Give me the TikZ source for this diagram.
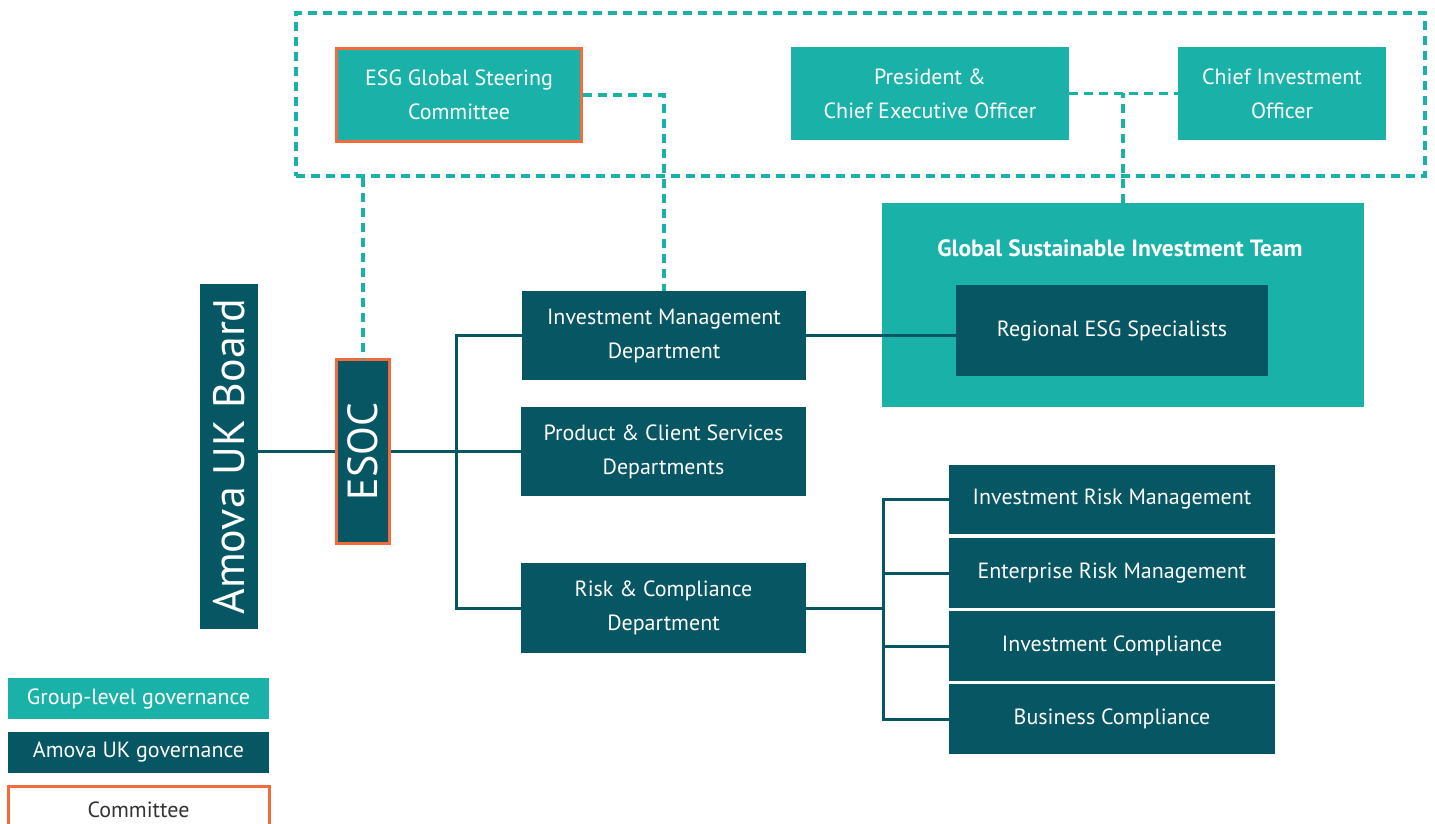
\documentclass[tikz,border=0pt]{standalone}
\usepackage{fontspec}
\setmainfont{PT Sans}
\definecolor{lteal}{HTML}{1AB2A8}
\definecolor{dteal}{HTML}{065663}
\definecolor{orng}{HTML}{F26B3A}
\definecolor{gtxt}{HTML}{333333}
\begin{document}
\begin{tikzpicture}[x=1pt,y=-1pt,
  box/.style={rectangle, inner sep=0pt, align=center, text=white,
    font=\fontsize{22}{34}\selectfont},
  grpbox/.style={box, fill=lteal},
  ukbox/.style={box, fill=dteal},
  cmte/.style={draw=orng, line width=3pt},
  dsh/.style={draw=lteal, line width=3.5pt, dash pattern=on 9pt off 6pt},
  sol/.style={draw=dteal, line width=3pt},
  legtxt/.style={font=\fontsize{22}{26}\selectfont}]
\useasboundingbox (0,0) rectangle (1435,824);
% group-level frame
\node[rectangle, dsh, minimum width=1129, minimum height=163] (grp) at (860.5,94.5) {};
% top row
\node[grpbox, cmte, minimum width=245, minimum height=93] (esg) at (459,95) {ESG Global Steering\\Committee};
\node[grpbox, minimum width=278, minimum height=93] (ceo) at (930,93.5) {President \&\\Chief Executive Officer};
\node[grpbox, minimum width=208, minimum height=93] (cio) at (1282,93.5) {Chief Investment\\Officer};
% GSIT
\node[grpbox, minimum width=482, minimum height=204] (gsit) at (1123,305) {};
\node[text=white, font=\fontsize{23.5}{26}\selectfont\bfseries] (gsitt) at (1120,248) {Global Sustainable Investment Team};
\node[ukbox, minimum width=312, minimum height=91] (res) at (1112,330.5) {Regional ESG Specialists};
% departments
\node[ukbox, minimum width=284, minimum height=89] (imd) at (664,335.5) {Investment Management\\Department};
\node[ukbox, minimum width=285, minimum height=89] (pcs) at (663.5,451.5) {Product \& Client Services\\Departments};
\node[ukbox, minimum width=285, minimum height=90] (rc) at (663.5,608) {Risk \& Compliance\\Department};
% ESOC and Board
\node[ukbox, cmte, minimum width=53, minimum height=184] (esoc) at (363,451.5) {};
\node[text=white, rotate=90, font=\fontsize{42}{44}\selectfont] (esoct) at (363,451.5) {ESOC};
\node[ukbox, minimum width=58, minimum height=345] (board) at (229,456.5) {};
\node[text=white, rotate=90, font=\fontsize{44}{46}\selectfont] (boardt) at (229,456.5) {Amova UK Board};
% risk sub-boxes
\node[ukbox, minimum width=326, minimum height=69] (irm) at (1112,499.5) {Investment Risk Management};
\node[ukbox, minimum width=326, minimum height=70] (erm) at (1112,573) {Enterprise Risk Management};
\node[ukbox, minimum width=326, minimum height=70] (ic) at (1112,646) {Investment Compliance};
\node[ukbox, minimum width=326, minimum height=70] (bc) at (1112,719) {Business Compliance};
% legend
\node[grpbox, legtxt, minimum width=261, minimum height=41] (leg1) at (138.5,698.5) {Group-level governance};
\node[ukbox, legtxt, minimum width=261, minimum height=41] (leg2) at (138.5,752.5) {Amova UK governance};
\node[box, cmte, legtxt, text=gtxt, minimum width=261, minimum height=52] (leg3) at (138.5,812) {\raisebox{5pt}{Committee}};
% dashed connectors
\draw[dsh] (esg.east) -| (imd.north);
\draw[dsh] (esoc.north |- grp.south) -- (esoc.north);
\draw[dsh] (ceo.east) -- (cio.west);
\draw[dsh] (gsit.north) -- (gsit.north |- ceo.east);
% solid connectors
\draw[sol] (board.east |- esoc.west) -- (esoc.west);
\draw[sol] (esoc.east) -- (pcs.west);
\coordinate (lb) at (456,335.5);
\draw[sol] (imd.west) -- (lb) |- (rc.west);
\draw[sol] (imd.east) -- (res.west |- imd.east);
\coordinate (rb) at (883,608);
\draw[sol] (rc.east) -- (rb);
\draw[sol] (irm.west) -- (irm.west -| rb) -- (bc.west -| rb) -- (bc.west);
\draw[sol] (erm.west) -- (erm.west -| rb);
\draw[sol] (ic.west) -- (ic.west -| rb);
\end{tikzpicture}
\end{document}
